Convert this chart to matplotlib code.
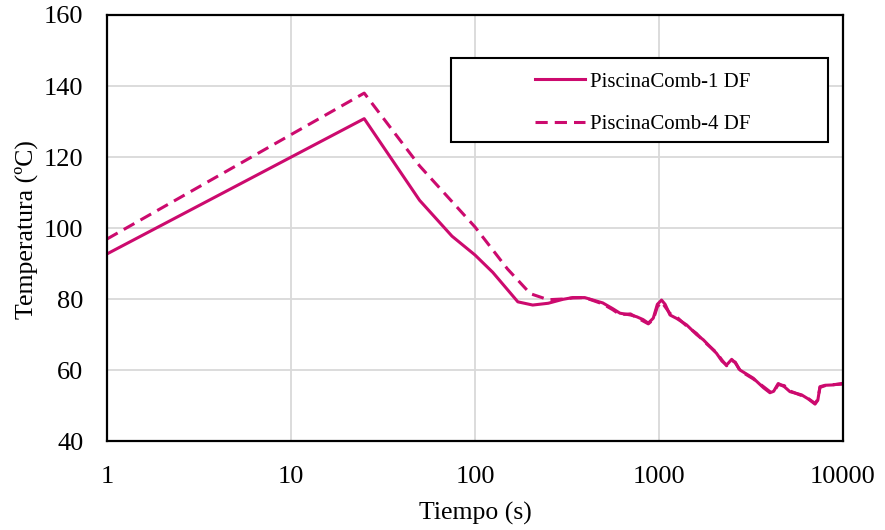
import matplotlib
matplotlib.use("Agg")
import matplotlib.pyplot as plt
from matplotlib.patches import Rectangle
from matplotlib.ticker import FixedLocator, FixedFormatter, NullLocator

plt.rcParams['font.family'] = ['Liberation Serif', 'DejaVu Serif']

# Time (s) and temperature (ºC) for each fuel pool case
t_comb1 = [1, 25, 50, 75, 100, 125, 171, 206, 250, 300, 340, 395, 495, 560, 614,
           700, 757, 820, 875, 931, 980, 1033, 1080, 1148, 1250, 1414, 1600, 1743,
           2055, 2200, 2331, 2484, 2600, 2755, 3254, 3700, 4009, 4200, 4449, 4800,
           5150, 5960, 6500, 7050, 7300, 7500, 8000, 8850, 9820, 10000]
T_comb1 = [92.7, 130.8, 107.8, 97.7, 92.4, 87.5, 79.2, 78.3, 78.8, 79.9, 80.4, 80.4,
           78.9, 77.3, 76.0, 75.5, 75.0, 74.2, 73.2, 74.6, 78.5, 79.7, 78.5, 75.5,
           74.5, 72.7, 70.0, 68.5, 64.7, 62.5, 61.4, 63.0, 62.0, 60.0, 57.7, 55.0,
           53.6, 54.0, 56.2, 55.3, 53.9, 53.0, 51.8, 50.4, 51.5, 55.3, 55.7, 55.8,
           56.2, 56.2]

t_comb4 = [1, 25, 50, 100, 150, 200, 250, 300, 340, 395, 495, 560, 614, 700, 757,
           820, 875, 931, 980, 1033, 1080, 1148, 1250, 1414, 1600, 1743, 2055, 2200,
           2331, 2484, 2600, 2755, 3254, 3700, 4009, 4200, 4449, 4800, 5150, 5960,
           6500, 7050, 7300, 7500, 8000, 8850, 9820, 10000]
T_comb4 = [96.9, 138.0, 117.5, 100.3, 88.5, 81.5, 79.8, 80.0, 80.3, 80.4, 78.6, 77.0,
           75.6, 75.8, 74.8, 73.8, 73.0, 74.2, 77.8, 79.2, 77.8, 75.9, 74.9, 72.4,
           70.3, 68.2, 64.9, 62.8, 61.2, 62.7, 62.2, 59.8, 57.5, 55.3, 53.9, 53.8,
           55.9, 55.6, 54.1, 52.8, 51.9, 50.6, 51.7, 55.1, 55.6, 55.9, 56.0, 56.1]

x_ticks = [1, 10, 100, 1000, 10000]
x_tick_labels = ["1", "10", "100", "1000", "10000"]
y_ticks = [40, 60, 80, 100, 120, 140, 160]
labels = ["PiscinaComb-1 DF", "PiscinaComb-4 DF"]

color = "#CC0A6E"

fig = plt.figure(figsize=(8.85, 5.30), dpi=100)
ax = fig.add_axes([0.1209, 0.1679, 0.8316, 0.8038])

ax.plot(t_comb1, T_comb1, color=color, lw=2.2, label=labels[0])
ax.plot(t_comb4, T_comb4, color=color, lw=2.2, dashes=(4.0, 2.3), label=labels[1])

ax.set_xscale("log")
ax.set_xlim(1, 10000)
ax.set_ylim(40, 160)
ax.xaxis.set_major_locator(FixedLocator(x_ticks))
ax.xaxis.set_major_formatter(FixedFormatter(x_tick_labels))
ax.xaxis.set_minor_locator(NullLocator())
ax.set_yticks(y_ticks)

ax.grid(True, color="#D9D9D9", lw=1.3)
ax.set_axisbelow(True)
ax.tick_params(length=0, labelsize=19)
ax.tick_params(axis="x", pad=18)
ax.tick_params(axis="y", pad=17)
for s in ax.spines.values():
    s.set_color("black")
    s.set_linewidth(1.6)

ax.set_xlabel("Tiempo (s)", fontsize=18.5, labelpad=10)
ax.set_ylabel("Temperatura (ºC)", fontsize=18.5)
ax.yaxis.set_label_coords(-0.094, 0.4965)

# Framed legend box
box = Rectangle((0.467, 0.702), 0.513, 0.197, transform=ax.transAxes,
                fill=True, facecolor="white", edgecolor="black", lw=1.5, zorder=5)
ax.add_patch(box)
leg = ax.legend(loc="center", bbox_to_anchor=(0.7276, 0.7935), frameon=False,
                fontsize=15, handlelength=2.4, handletextpad=0.25, labelspacing=1.1)
leg.set_zorder(6)

fig.savefig("out.png", dpi=100)
